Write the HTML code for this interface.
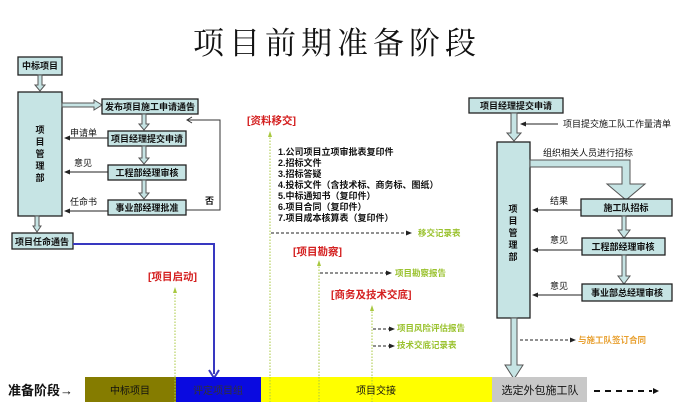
<!DOCTYPE html>
<html><head><meta charset="utf-8"><style>
html,body{margin:0;padding:0;background:#fff;}
svg{display:block;font-family:"Liberation Sans","Noto Sans CJK SC",sans-serif;}
.b{fill:#c6e4e4;stroke:#222;stroke-width:1.3;}
.t{font-size:9px;font-weight:bold;fill:#111;}
.s{font-size:9px;fill:#111;}
.r{font-size:10.5px;font-weight:bold;fill:#d42020;}
.g{font-size:8.5px;font-weight:bold;fill:#9ac22e;}
.dg{stroke:#a8c840;stroke-width:1;stroke-dasharray:1.5 1.5;fill:none;}
.dk{stroke:#222;stroke-width:1;stroke-dasharray:3 2;fill:none;}
.ar{fill:#c6e4e4;stroke:#555;stroke-width:1;}
</style></head><body>
<svg width="699" height="414" viewBox="0 0 699 414">
<defs>
<marker id="ah" markerWidth="6" markerHeight="6" refX="5" refY="3" orient="auto"><path d="M0,0.5 L6,3 L0,5.5z" fill="#222"/></marker>
<marker id="ag" markerWidth="6" markerHeight="6" refX="3" refY="3" orient="auto"><path d="M0,1 L6,3 L0,5z" fill="#a8c840"/></marker>
</defs>
<text x="337" y="54" text-anchor="middle" style="font-family:'Noto Serif CJK SC','Liberation Serif',serif;font-size:31px;letter-spacing:5px" fill="#111">项目前期准备阶段</text>

<!-- left -->
<rect class="b" x="18" y="57" width="44" height="18"/><text class="t" x="40" y="69" text-anchor="middle">中标项目</text>
<path class="ar" d="M38,75 v10 h-3 l5,6 l5,-6 h-3 v-10z"/>
<rect class="b" x="18" y="92" width="44" height="124"/>
<text class="t" x="40" y="133" text-anchor="middle">项</text><text class="t" x="40" y="145" text-anchor="middle">目</text><text class="t" x="40" y="157" text-anchor="middle">管</text><text class="t" x="40" y="169" text-anchor="middle">理</text><text class="t" x="40" y="181" text-anchor="middle">部</text>
<path class="ar" d="M62,103 h32 v-3 l8,5 l-8,5 v-3 h-32z"/>
<rect class="b" x="102" y="99" width="96" height="15"/><text class="t" x="150" y="110" text-anchor="middle">发布项目施工申请通告</text>
<path class="ar" d="M142,114 v10 h-3 l5,6 l5,-6 h-3 v-10z"/>
<rect class="b" x="108" y="131" width="78" height="15"/><text class="t" x="147" y="142" text-anchor="middle">项目经理提交申请</text>
<path class="ar" d="M142,146 v12 h-3 l5,6 l5,-6 h-3 v-12z"/>
<rect class="b" x="108" y="165" width="78" height="15"/><text class="t" x="147" y="176" text-anchor="middle">工程部经理审核</text>
<path class="ar" d="M142,180 v13 h-3 l5,6 l5,-6 h-3 v-13z"/>
<rect class="b" x="108" y="200" width="78" height="15"/><text class="t" x="147" y="211" text-anchor="middle">事业部经理批准</text>
<path d="M186,210 h34 v-90 h-32" fill="none" stroke="#333" stroke-width="1"/><path d="M192,117 l-5,3 l5,3" fill="none" stroke="#333"/>
<text class="t" x="205" y="204" font-size="10">否</text>
<line x1="108" y1="138" x2="65" y2="138" stroke="#222" marker-end="url(#ah)"/><text class="s" x="70" y="136">申请单</text>
<line x1="108" y1="172" x2="65" y2="172" stroke="#222" marker-end="url(#ah)"/><text class="s" x="74" y="166">意见</text>
<line x1="108" y1="211" x2="65" y2="211" stroke="#222" marker-end="url(#ah)"/><text class="s" x="70" y="205">任命书</text>
<path class="ar" d="M35,216 v10 h-2 l4,6 l4,-6 h-2 v-10z"/>
<rect class="b" x="12" y="233" width="61" height="16"/><text class="t" x="42" y="245" text-anchor="middle">项目任命通告</text>
<path d="M73,244 h141 v130" fill="none" stroke="#3838c0" stroke-width="2"/><path d="M209,370 l5,8 l5,-8" fill="none" stroke="#3838c0" stroke-width="2"/>

<text class="r" x="148" y="280">[项目启动]</text>
<line class="dg" x1="175" y1="377" x2="175" y2="290" marker-end="url(#ag)"/>

<!-- center -->
<text class="r" x="247" y="124">[资料移交]</text>
<line class="dg" x1="270" y1="400" x2="270" y2="134" marker-end="url(#ag)"/>
<g class="t" font-size="8.5">
<text x="278" y="155">1.公司项目立项审批表复印件</text>
<text x="278" y="166">2.招标文件</text>
<text x="278" y="177">3.招标答疑</text>
<text x="278" y="188">4.投标文件（含技术标、商务标、图纸）</text>
<text x="278" y="199">5.中标通知书（复印件）</text>
<text x="278" y="210">6.项目合同（复印件）</text>
<text x="278" y="221">7.项目成本核算表（复印件）</text>
</g>
<line class="dk" x1="271" y1="233" x2="411" y2="233" marker-end="url(#ah)"/><text class="g" x="418" y="236">移交记录表</text>
<text class="r" x="293" y="255">[项目勘察]</text>
<line class="dg" x1="319" y1="400" x2="319" y2="263" marker-end="url(#ag)"/>
<line class="dk" x1="320" y1="273" x2="391" y2="273" marker-end="url(#ah)"/><text class="g" x="395" y="276">项目勘察报告</text>
<text class="r" x="331" y="298">[商务及技术交底]</text>
<line class="dg" x1="372" y1="400" x2="372" y2="308" marker-end="url(#ag)"/>
<line class="dk" x1="373" y1="329" x2="394" y2="329" marker-end="url(#ah)"/><text class="g" x="397" y="331">项目风险评估报告</text>
<line class="dk" x1="373" y1="346" x2="394" y2="346" marker-end="url(#ah)"/><text class="g" x="397" y="348">技术交底记录表</text>

<!-- right -->
<rect class="b" x="469" y="98" width="94" height="15"/><text class="t" x="516" y="109" text-anchor="middle">项目经理提交申请</text>
<path class="ar" d="M511,113 v20 h-4 l7,8 l7,-8 h-4 v-20z"/>
<line x1="558" y1="124" x2="521" y2="124" stroke="#222" marker-end="url(#ah)"/><text class="s" x="563" y="127">项目提交施工队工作量清单</text>
<rect class="b" x="497" y="142" width="33" height="176"/>
<text class="t" x="513" y="212" text-anchor="middle">项</text><text class="t" x="513" y="224" text-anchor="middle">目</text><text class="t" x="513" y="236" text-anchor="middle">管</text><text class="t" x="513" y="248" text-anchor="middle">理</text><text class="t" x="513" y="260" text-anchor="middle">部</text>
<text class="s" x="543" y="156">组织相关人员进行招标</text>
<path class="ar" d="M530,160 h100 v24 h15 l-19,16 l-19,-16 h15 v-17 h-92z"/>
<rect class="b" x="581" y="199" width="91" height="17"/><text class="t" x="626" y="211" text-anchor="middle">施工队招标</text>
<path class="ar" d="M622,216 v14 h-4 l6,8 l6,-8 h-4 v-14z"/>
<rect class="b" x="582" y="238" width="83" height="17"/><text class="t" x="623" y="250" text-anchor="middle">工程部经理审核</text>
<path class="ar" d="M622,255 v21 h-4 l6,8 l6,-8 h-4 v-21z"/>
<rect class="b" x="582" y="284" width="90" height="17"/><text class="t" x="627" y="296" text-anchor="middle">事业部总经理审核</text>
<line x1="581" y1="210" x2="533" y2="210" stroke="#222" marker-end="url(#ah)"/><text class="s" x="550" y="204">结果</text>
<line x1="582" y1="250" x2="533" y2="250" stroke="#222" marker-end="url(#ah)"/><text class="s" x="550" y="243">意见</text>
<line x1="582" y1="295" x2="533" y2="295" stroke="#222" marker-end="url(#ah)"/><text class="s" x="550" y="289">意见</text>
<path class="ar" d="M511,318 v47 h-6 l9,14 l9,-14 h-6 v-47z"/>
<line class="dk" x1="520" y1="340" x2="575" y2="340" marker-end="url(#ah)"/><text x="578" y="343" style="font-size:8.5px;font-weight:bold;fill:#e8a030">与施工队签订合同</text>

<!-- bottom bar -->
<text x="8" y="395" style="font-size:13px;font-weight:bold" fill="#111">准备阶段→</text>
<rect x="85" y="377" width="91" height="25" fill="#857c00"/>
<text x="130" y="394" text-anchor="middle" font-size="10" fill="#111">中标项目</text>
<rect x="176" y="377" width="85" height="25" fill="#0a0ae0"/>
<text x="218" y="394" text-anchor="middle" font-size="10" fill="#333">评定项目组</text>
<rect x="261" y="377" width="231" height="25" fill="#ffff00"/>
<text x="376" y="394" text-anchor="middle" font-size="10" fill="#111">项目交接</text>
<rect x="492" y="377" width="95" height="25" fill="#c8c8c8"/>
<text x="540" y="394" text-anchor="middle" font-size="11" fill="#111">选定外包施工队</text>
<line x1="594" y1="391" x2="652" y2="391" stroke="#111" stroke-width="2" stroke-dasharray="6 5"/>
<path d="M653,388 l6,3 l-6,3z" fill="#111"/>
<line class="dg" x1="175" y1="377" x2="175" y2="402"/>
<line class="dg" x1="270" y1="377" x2="270" y2="402"/>
<line class="dg" x1="319" y1="377" x2="319" y2="402"/>
<line class="dg" x1="372" y1="377" x2="372" y2="402"/>
</svg>
</body></html>
